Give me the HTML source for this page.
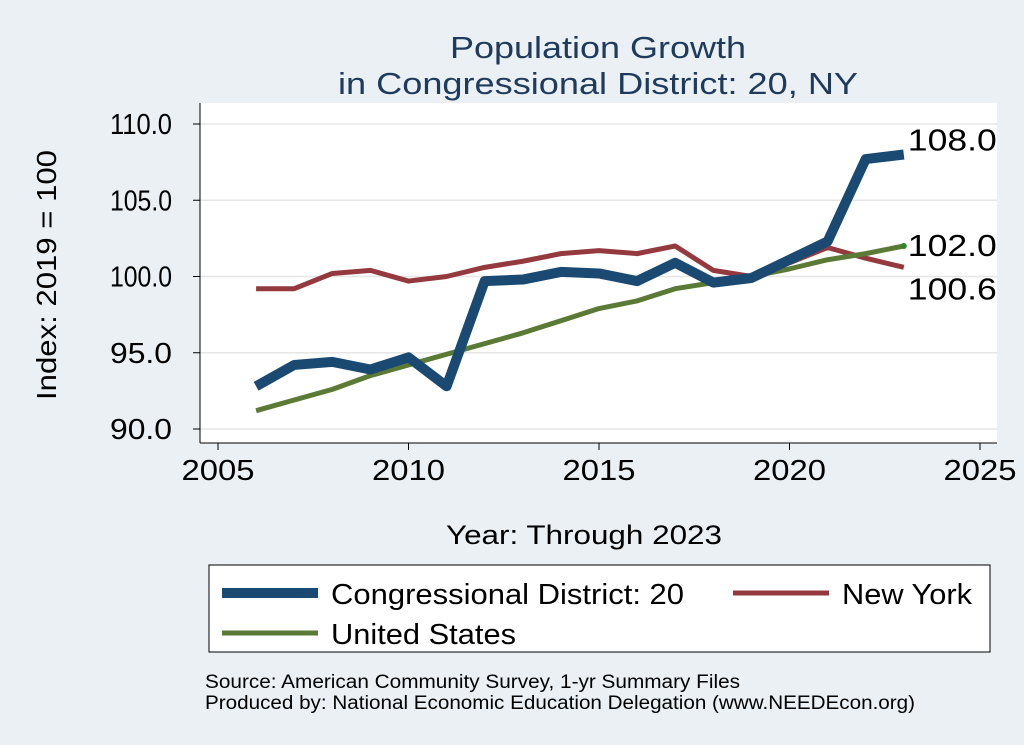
<!DOCTYPE html>
<html><head><meta charset="utf-8">
<style>
body{margin:0;background:#eaf0f4;}
svg{display:block;font-family:"Liberation Sans",sans-serif;}
</style></head>
<body>
<svg id="chart" width="1024" height="745">
<rect width="1024" height="745" fill="#eaf0f4"/>
<text x="598" y="58" font-size="31" fill="#1e3a5c" text-anchor="middle" textLength="296" lengthAdjust="spacingAndGlyphs">Population Growth</text>
<text x="598" y="94" font-size="31" fill="#1e3a5c" text-anchor="middle" textLength="520" lengthAdjust="spacingAndGlyphs">in Congressional District: 20, NY</text>
<rect x="200" y="103" width="797" height="340" fill="#fff"/>
<g id="grid"></g>
<g id="axes"></g>
<g id="series"></g>
<text x="56" y="275" font-size="28" fill="#000" text-anchor="middle" textLength="250" lengthAdjust="spacingAndGlyphs" transform="rotate(-90 56 275)">Index: 2019 = 100</text>
<text x="584" y="544" font-size="27" fill="#000" text-anchor="middle" textLength="276" lengthAdjust="spacingAndGlyphs">Year: Through 2023</text>
<g>
<rect x="209" y="565" width="781" height="87" fill="#fff" stroke="#000" stroke-width="1"/>
<line x1="222" y1="593" x2="318" y2="593" stroke="#1a4a72" stroke-width="10"/>
<text x="331" y="604" font-size="29" textLength="353" lengthAdjust="spacingAndGlyphs">Congressional District: 20</text>
<line x1="733" y1="593" x2="829" y2="593" stroke="#943a3f" stroke-width="5"/>
<text x="842" y="604" font-size="29" textLength="130" lengthAdjust="spacingAndGlyphs">New York</text>
<line x1="222" y1="633" x2="318" y2="633" stroke="#5a7a36" stroke-width="5"/>
<text x="331" y="644" font-size="29" textLength="185" lengthAdjust="spacingAndGlyphs">United States</text>
</g>
<text x="205" y="688" font-size="19" textLength="535" lengthAdjust="spacingAndGlyphs">Source: American Community Survey, 1-yr Summary Files</text>
<text x="205" y="709" font-size="19" textLength="710" lengthAdjust="spacingAndGlyphs">Produced by: National Economic Education Delegation (www.NEEDEcon.org)</text>
</svg>
<script>
const years=[2006,2007,2008,2009,2010,2011,2012,2013,2014,2015,2016,2017,2018,2019,2020,2021,2022,2023];
const cd20=[92.8,94.2,94.4,93.9,94.7,92.8,99.7,99.8,100.3,100.2,99.7,100.9,99.6,99.9,101.1,102.3,107.7,108.0];
const ny=[99.2,99.2,100.2,100.4,99.7,100.0,100.6,101.0,101.5,101.7,101.5,102.0,100.4,100.0,100.9,101.9,101.2,100.6];
const us=[91.2,91.9,92.6,93.5,94.2,94.9,95.6,96.3,97.1,97.9,98.4,99.2,99.6,100.0,100.5,101.1,101.5,102.0];
const xTicks=[2005,2010,2015,2020,2025];
const yTicks=[90,95,100,105,110];
const NS="http://www.w3.org/2000/svg";
const xS=v=>218+(v-2005)*(980-218)/20;
const yS=v=>429-(v-90)*(429-124)/20;
function mk(tag,attrs,parent){const e=document.createElementNS(NS,tag);for(const k in attrs)e.setAttribute(k,attrs[k]);parent.appendChild(e);return e;}
const grid=document.getElementById('grid'),axes=document.getElementById('axes'),ser=document.getElementById('series');
yTicks.forEach(t=>{
 const g=mk('line',{x1:200,x2:997,y1:yS(t),y2:yS(t),stroke:'#e6e6e6','stroke-width':1.5},grid);
 
 
 mk('line',{x1:193,x2:200,y1:yS(t),y2:yS(t),stroke:'#000'},axes);
 const l=mk('text',{x:172,y:yS(t)+10,'font-size':29,'text-anchor':'end',textLength:62,lengthAdjust:'spacingAndGlyphs'},axes);
 l.textContent=t.toFixed(1);
 
 
});
mk('line',{x1:200,x2:200,y1:103,y2:443,stroke:'#000'},axes);
mk('line',{x1:200,x2:997,y1:443,y2:443,stroke:'#000'},axes);
xTicks.forEach(t=>{
 mk('line',{x1:xS(t),x2:xS(t),y1:443,y2:450,stroke:'#000'},axes);
 const l=mk('text',{x:xS(t),y:480,'font-size':29,'text-anchor':'middle',textLength:73,lengthAdjust:'spacingAndGlyphs'},axes);
 l.textContent=t;
 
 
});
function line(vals,color,w,name){
 const p=mk('polyline',{points:vals.map((v,i)=>xS(years[i])+','+yS(v)).join(' '),fill:'none',stroke:color,'stroke-width':w,'stroke-linejoin':'round'},ser);
 
 
}
line(ny,'#943a3f',5,'line-new-york');
line(us,'#5a7a36',5,'line-united-states');
line(cd20,'#1a4a72',10,'line-cd20');
mk('circle',{cx:xS(years[years.length-1]),cy:yS(us[us.length-1]),r:3,fill:'#2a8a2a'},ser);
const last=years.length-1;
[[cd20,'label-cd20',-14],[us,'label-us',0],[ny,'label-ny',22]].forEach(([a,n,dy])=>{
 const t=mk('text',{x:xS(years[last])+4,y:yS(a[last])+10+dy,'font-size':31,textLength:89,lengthAdjust:'spacingAndGlyphs'},ser);
 t.textContent=a[last].toFixed(1);
 
 
});
</script>
</body></html>
